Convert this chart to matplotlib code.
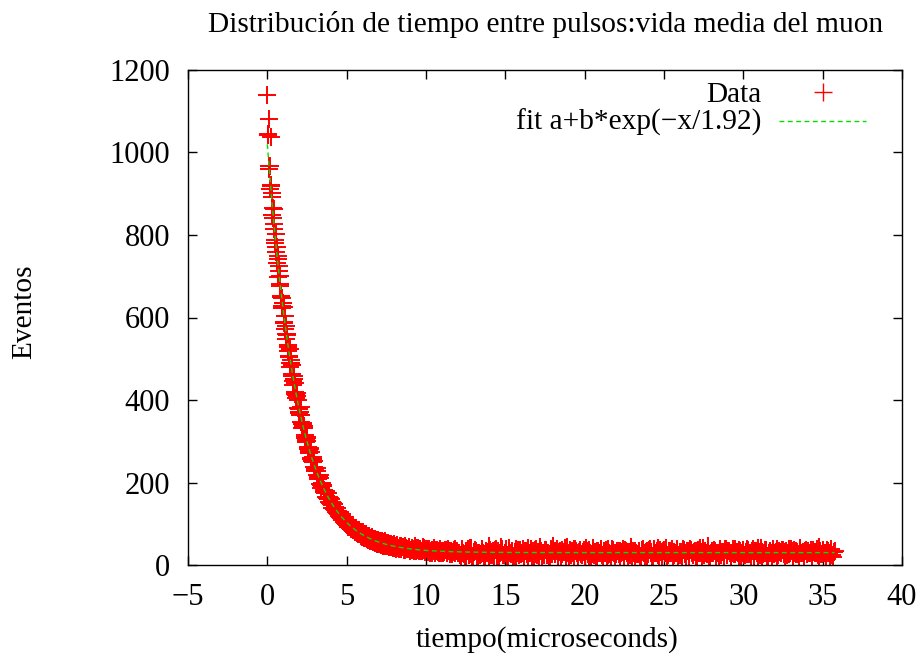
import numpy as np
import matplotlib
matplotlib.use("Agg")
import matplotlib.pyplot as plt

plt.rcParams['font.family'] = ['Liberation Serif', 'DejaVu Serif']
plt.rcParams['font.size'] = 21.2

# counts, bins 0.05 us wide
# even bins: t = 0.0, 0.1, 0.2, ...
eventos_par = [
    1140, 1081, 1038, 891, 862, 781, 771, 698, 701, 622,
    634, 603, 548, 519, 524, 489, 437, 452, 411, 409,
    372, 384, 331, 336, 309, 311, 271, 283, 252, 261,
    229, 234, 208, 219, 187, 194, 178, 166, 175, 152,
    161, 139, 148, 129, 137, 119, 128, 108, 117, 101,
    109, 93, 104, 87, 96, 81, 90, 76, 84, 71,
    80, 66, 75, 63, 71, 59, 68, 55, 64, 52,
    61, 50, 59, 47, 57, 45, 54, 43, 52, 41,
    50, 40, 49, 38, 46, 43, 36, 47, 39, 44,
    35, 42, 37, 45, 34, 41, 38, 33, 43, 36,
    40, 31, 39, 35, 28, 41, 33, 36, 30, 38,
    34, 29, 37, 32, 40, 27, 35, 31, 38, 33,
    30,
    30, 22, 38, 27, 17, 35, 25, 41, 21, 31, 37, 19, 29, 24, 40, 28, 20, 34, 31, 46,
    24, 33, 21, 38, 27, 18, 32, 39, 25, 30, 20, 42, 28, 35, 23, 31, 16, 37, 30, 26,
    40, 23, 33, 19, 30, 38, 27, 17, 36, 25, 31, 43, 22, 30, 37, 24, 28, 20, 33, 47,
    26, 35, 23, 31, 19, 37, 32, 25, 43, 21, 28, 34, 18, 39, 30, 23, 36, 27, 32, 20,
    41, 27, 36, 22, 32, 25, 15, 35, 30, 40, 24, 33, 28, 21, 38, 26, 31, 36, 22, 29,
    34, 20, 30, 39, 25, 34, 23, 31, 44, 19, 28, 35, 26, 31, 21, 37, 32, 18, 33, 27,
    39, 30, 23, 36, 28, 41, 20, 32, 26, 37, 30, 21, 34, 28, 40, 24, 30, 35, 17, 31,
    25, 38, 27, 21, 33, 30, 37, 24, 32, 19, 35, 28, 41, 23, 30, 34, 26, 46, 22, 31,
    28, 34, 20, 30, 38, 25, 32, 23, 39, 28, 35, 18, 30, 26, 40, 32, 21, 34, 28, 37,
    24, 26, 36, 30, 20, 39, 28, 34, 23, 31, 42, 19, 30, 37, 17, 28, 35, 22, 32, 30,
    38, 24, 31, 28, 37, 20, 34, 30, 26, 40, 22, 36, 27, 32, 18, 38, 30, 25, 34, 27,
    35, 30, 21, 37, 28, 32, 24, 43, 26, 33, 30, 19, 36, 28, 39, 24, 32,
]
# odd bins: t = 0.05, 0.15, 0.25, ...
eventos_impar = [
    1042, 968, 918, 842, 826, 760, 749, 712, 652, 647,
    589, 561, 559, 507, 481, 463, 458, 419, 417, 381,
    364, 346, 344, 314, 298, 287, 284, 259, 249, 238,
    236, 217, 216, 197, 199, 181, 174, 175, 159, 161,
    146, 149, 134, 137, 124, 127, 114, 117, 105, 108,
    97, 101, 90, 95, 84, 88, 78, 83, 74, 78,
    68, 73, 64, 69, 61, 66, 57, 63, 55, 60,
    52, 57, 50, 55, 47, 53, 46, 51, 44, 49,
    42, 46, 41, 45, 39, 44, 37, 42, 38, 43,
    36, 40, 34, 41, 37, 33, 39, 35, 42, 32,
    38, 34, 30, 37, 33, 29, 36, 31, 35, 28,
    34, 32, 37, 29, 33, 31, 27, 36, 30, 34,
    28,
    24, 37, 28, 18, 33, 39, 26, 42, 22, 31, 35, 20, 30, 27, 40, 23, 34, 29, 19, 36,
    31, 25, 37, 21, 33, 28, 43, 24, 30, 38, 17, 34, 27, 32, 22, 39, 29, 25, 36, 30,
    20, 35, 27, 41, 29, 23, 33, 26, 38, 31, 19, 35, 28, 24, 37, 30, 22, 40, 27, 33,
    29, 38, 22, 34, 26, 31, 41, 19, 30, 36, 25, 28, 39, 33, 21, 32, 27, 24, 37, 29,
    35, 23, 30, 27, 42, 31, 20, 33, 28, 38, 18, 32, 36, 25, 30, 22, 39, 28, 26, 34,
    27, 33, 31, 21, 37, 28, 32, 24, 40, 35, 20, 30, 26, 34, 19, 38, 29, 32, 23, 36,
    31, 22, 39, 28, 34, 25, 37, 20, 33, 29, 41, 24, 35, 30, 21, 32, 28, 38, 25, 31,
    23, 36, 30, 33, 18, 39, 29, 26, 34, 22, 37, 30, 31, 42, 24, 28, 35, 20, 30, 33,
    37, 26, 30, 21, 35, 32, 28, 40, 24, 33, 30, 19, 38, 27, 31, 29, 36, 23, 30, 25,
    32, 39, 26, 30, 35, 20, 34, 28, 41, 24, 31, 27, 37, 29, 22, 33, 28, 39, 26, 32,
    21, 34, 30, 37, 26, 32, 24, 40, 28, 35, 19, 30, 33, 27, 41, 28, 31, 23, 36, 30,
    28, 36, 24, 31, 30, 39, 22, 33, 27, 37, 29, 28, 35, 23, 32, 20, 34,
]
# steep part, in-between bins: t = 0.025, 0.075, 0.125, ... up to ~8 us
eventos_fino = [
    1046, 961, 967, 912, 922, 903, 849, 866, 815, 787,
    802, 770, 731, 741, 724, 676, 681, 650, 628, 634,
    625, 586, 572, 580, 558, 528, 534, 505, 490, 497,
    486, 457, 447, 452, 441, 414, 405, 410, 401, 377,
    368, 372, 364, 341, 335, 339, 331, 311, 304, 308,
    301, 282, 277, 281, 275, 257, 252, 256, 251, 234,
    230, 234, 229, 214, 211, 214, 210, 195, 192, 196,
    191, 178, 176, 179, 176, 163, 161, 165, 163, 150,
    148, 152, 150, 138, 136, 140, 138, 127, 125, 130,
    128, 117, 115, 120, 119, 108, 106, 111, 110, 99,
    98, 103, 103, 92, 91, 97, 96, 86, 85, 90,
    90, 79, 79, 85, 85, 74, 74, 79, 80, 69,
    69, 75, 75, 65, 72, 63, 70, 61, 68, 59,
    66, 57, 65, 56, 63, 54, 61, 53, 60, 52,
    58, 50, 57, 49, 56, 48, 54, 47, 53, 46,
    52, 45, 51, 44, 50, 44, 49, 43, 48, 42,
    47, 43,
]

n_bins = len(eventos_par) + len(eventos_impar)
tiempo = np.round(np.arange(n_bins) * 0.05, 2)
eventos = np.empty(n_bins)
eventos[0::2] = eventos_par
eventos[1::2] = eventos_impar
tiempo_fino = np.round(0.025 + np.arange(len(eventos_fino)) * 0.05, 3)

# fitted parameters a + b*exp(-x/tau)
fit_a = 30.0
fit_b = 990.0
fit_tau = 1.92

xticks = [-5, 0, 5, 10, 15, 20, 25, 30, 35, 40]
yticks = [0, 200, 400, 600, 800, 1000, 1200]

fig = plt.figure(figsize=(9.21, 6.53), dpi=100)
ax = fig.add_axes([188 / 921, 88 / 653, 714 / 921, 495 / 653])

t_all = np.concatenate([tiempo, tiempo_fino])
y_all = np.concatenate([eventos, eventos_fino])
ax.plot(t_all, y_all, linestyle='none', marker='+', color='#ff0000',
        markersize=12.5, markeredgewidth=1.4, zorder=2)
fit_y = fit_a + fit_b * np.exp(-tiempo / fit_tau)
ax.plot(tiempo, fit_y, color='#00e000', linewidth=1.0, dashes=(3.5, 2.5), zorder=3)

ax.set_xlim(-5, 40)
ax.set_ylim(0, 1200)
ax.set_xticks(xticks)
ax.set_yticks(yticks)
ax.tick_params(direction='in', top=True, right=True, length=6.5, width=1.0,
               labelsize=22)
ax.tick_params(axis='x', pad=13)
ax.tick_params(axis='y', pad=13)
for s in ax.spines.values():
    s.set_linewidth(1.0)

# gnuplot style key, text right aligned
ax.text(0.8025, 0.936, 'Data', ha='right', va='baseline', transform=ax.transAxes)
ax.text(0.8025, 0.879, 'fit a+b*exp(\u2212x/1.92)', ha='right', va='baseline',
        transform=ax.transAxes)
ax.plot([0.890], [0.955], linestyle='none', marker='+', color='#ff0000',
        markersize=12.5, markeredgewidth=1.0, transform=ax.transAxes, clip_on=False)
ax.plot([0.828, 0.949], [0.897, 0.897], color='#00e000', linewidth=1.0,
        dashes=(3.5, 2.5), transform=ax.transAxes, clip_on=False)

fig.text(545.5 / 921, 1 - 32 / 653, 'Distribución de tiempo entre pulsos:vida media del muon',
         ha='center', va='baseline')
fig.text(547.5 / 921, (653 - 646.5) / 653, 'tiempo(microseconds)', ha='center', va='baseline')
fig.text(24 / 921, 1 - 312 / 653, 'Eventos', rotation=90, ha='center', va='center')

fig.savefig('out.png', dpi=100)
